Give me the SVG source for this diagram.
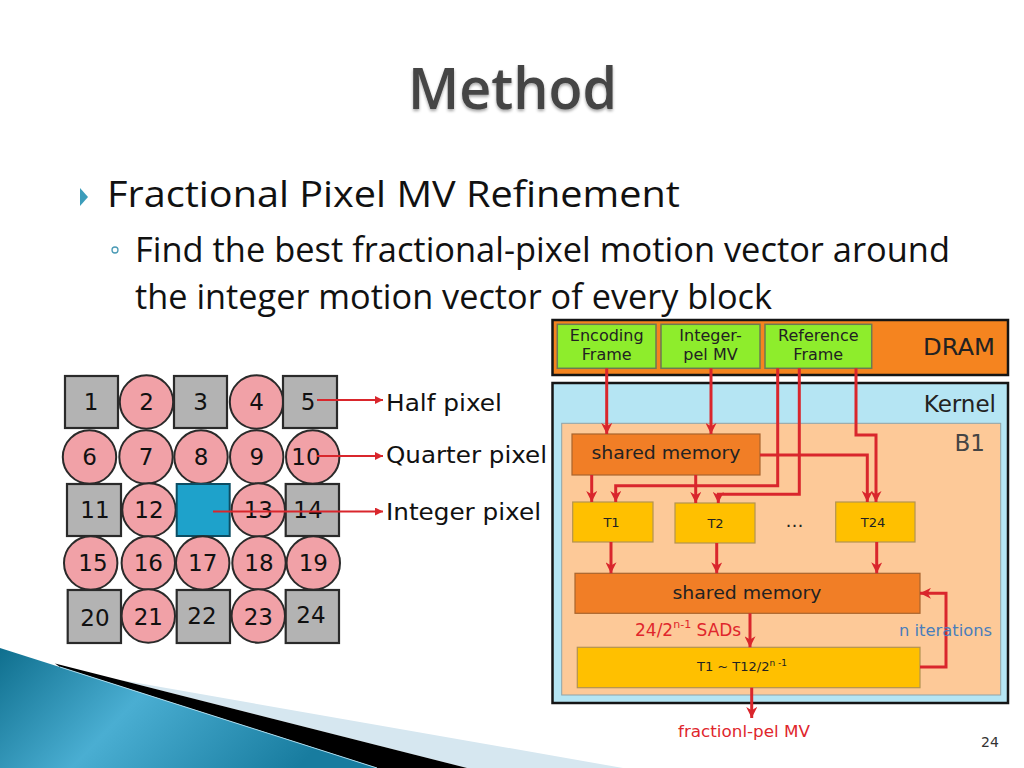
<svg xmlns="http://www.w3.org/2000/svg" width="1024" height="768" viewBox="0 0 1024 768">
<defs>
<style>
.ttl{font-family:"Open Sans","DejaVu Sans",sans-serif;font-weight:600;font-size:58px;fill:#444}
.b1{font-family:"Open Sans","DejaVu Sans",sans-serif;font-size:37px;fill:#111}
.b2{font-family:"Open Sans","DejaVu Sans",sans-serif;font-size:34px;fill:#111}
.num{font-family:"DejaVu Sans",sans-serif;font-size:23px;fill:#111;text-anchor:middle}
.lg{font-family:"DejaVu Sans",sans-serif;font-size:23px;fill:#111}
.sq{fill:#b3b3b3;stroke:#2a2a2a;stroke-width:2.2}
.ci{fill:#f1a1a7;stroke:#2a2a2a;stroke-width:2}
.dt{font-family:"DejaVu Sans",sans-serif;fill:#222}
.gb{fill:#8eed2c;stroke:#6b7a52;stroke-width:1.5}
.sm{fill:#f17e26;stroke:#a8642e;stroke-width:1.2}
.tb{fill:#ffc000;stroke:#b39350;stroke-width:1.2}
.cn{fill:none;stroke:#d9262c;stroke-width:3;marker-end:url(#ah)}
.lgl{fill:none;stroke:#d9262c;stroke-width:2;marker-end:url(#ahs)}
.rd{font-family:"DejaVu Sans",sans-serif;fill:#e0262c}
</style>
<marker id="ah" viewBox="0 0 10 10" refX="10" refY="5" markerWidth="11" markerHeight="11" markerUnits="userSpaceOnUse" orient="auto"><path d="M0,0 L10,5 L0,10 L3,5 z" fill="#d9262c"/></marker>
<marker id="ahs" viewBox="0 0 10 10" refX="10" refY="5" markerWidth="10" markerHeight="8" markerUnits="userSpaceOnUse" orient="auto"><path d="M0,0 L10,5 L0,10 z" fill="#d9262c"/></marker>
<filter id="sh" x="-10%" y="-20%" width="120%" height="150%"><feDropShadow dx="0" dy="2" stdDeviation="1.5" flood-color="#000" flood-opacity="0.35"/></filter>
<linearGradient id="blu" x1="0" y1="0" x2="1" y2="0.3">
<stop offset="0" stop-color="#0f6f8e"/>
<stop offset="0.45" stop-color="#4aaed2"/>
<stop offset="1" stop-color="#187c9f"/>
</linearGradient>
</defs>
<rect width="1024" height="768" fill="#fff"/>

<!-- bottom-left decoration -->
<polygon points="118,679.6 623,768 467,768" fill="#d6e7f0"/>
<polygon points="55,663.5 467,768 377,768 60,667" fill="#000"/>
<polygon points="0,648 377,768 0,768" fill="url(#blu)"/>
<line x1="60" y1="667" x2="377" y2="768" stroke="#a8d8ea" stroke-width="1"/>

<!-- title and bullets -->
<text class="ttl" x="408" y="109" textLength="209" lengthAdjust="spacingAndGlyphs" filter="url(#sh)">Method</text>
<polygon points="80,188 88,197 80,206" fill="#3c9dbb"/>
<text class="b1" x="107" y="207" textLength="573" lengthAdjust="spacingAndGlyphs">Fractional Pixel MV Refinement</text>
<circle cx="115" cy="250" r="3" fill="none" stroke="#4a9ab5" stroke-width="1.3"/>
<text class="b2" x="135" y="262" textLength="815" lengthAdjust="spacingAndGlyphs">Find the best fractional-pixel motion vector around</text>
<text class="b2" x="135" y="309" textLength="637" lengthAdjust="spacingAndGlyphs">the integer motion vector of every block</text>

<!-- pixel grid -->
<g id="p1"><rect class="sq" x="65" y="376" width="53" height="52"/><text class="num" x="91" y="410">1</text></g>
<g id="p2"><circle class="ci" cx="146.5" cy="402" r="26.7"/><text class="num" x="146.5" y="410">2</text></g>
<g id="p3"><rect class="sq" x="174" y="376" width="53" height="52"/><text class="num" x="200.5" y="410">3</text></g>
<g id="p4"><circle class="ci" cx="256.5" cy="402" r="26.7"/><text class="num" x="256.5" y="410">4</text></g>
<g id="p5"><rect class="sq" x="283" y="376" width="54" height="52"/><text class="num" x="308" y="410">5</text></g>

<g id="p6"><circle class="ci" cx="89.5" cy="457" r="26.7"/><text class="num" x="89.5" y="465">6</text></g>
<g id="p7"><circle class="ci" cx="146" cy="457" r="26.7"/><text class="num" x="146" y="465">7</text></g>
<g id="p8"><circle class="ci" cx="201" cy="457" r="26.7"/><text class="num" x="201" y="465">8</text></g>
<g id="p9"><circle class="ci" cx="256.7" cy="457" r="26.7"/><text class="num" x="256.7" y="465">9</text></g>
<g id="p10"><circle class="ci" cx="312.7" cy="457" r="26.7"/><text class="num" x="306" y="465">10</text></g>

<g id="p11"><rect class="sq" x="67" y="484" width="54" height="52"/><text class="num" x="95" y="518">11</text></g>
<g id="p12"><circle class="ci" cx="149" cy="510" r="26.7"/><text class="num" x="149" y="518">12</text></g>
<g id="pc"><rect x="176.7" y="484" width="53" height="52" fill="#1ea2cb" stroke="#0c4d63" stroke-width="2"/></g>
<g id="p13"><circle class="ci" cx="258.3" cy="510" r="26.7"/><text class="num" x="258.3" y="518">13</text></g>
<g id="p14"><rect class="sq" x="285.7" y="484" width="53.3" height="52"/><text class="num" x="308" y="518">14</text></g>

<g id="p15"><circle class="ci" cx="90.7" cy="563" r="26.7"/><text class="num" x="93" y="571">15</text></g>
<g id="p16"><circle class="ci" cx="148.3" cy="563" r="26.7"/><text class="num" x="148.3" y="571">16</text></g>
<g id="p17"><circle class="ci" cx="202.7" cy="563" r="26.7"/><text class="num" x="202.7" y="571">17</text></g>
<g id="p18"><circle class="ci" cx="259" cy="563" r="26.7"/><text class="num" x="259" y="571">18</text></g>
<g id="p19"><circle class="ci" cx="313.3" cy="563" r="26.7"/><text class="num" x="313.3" y="571">19</text></g>

<g id="p20"><rect class="sq" x="67.7" y="590" width="53.3" height="53"/><text class="num" x="95" y="626">20</text></g>
<g id="p21"><circle class="ci" cx="148.3" cy="616" r="26.7"/><text class="num" x="148.3" y="625">21</text></g>
<g id="p22"><rect class="sq" x="176.7" y="590" width="53.3" height="53"/><text class="num" x="202" y="624">22</text></g>
<g id="p23"><circle class="ci" cx="258.3" cy="616" r="26.7"/><text class="num" x="258.3" y="625">23</text></g>
<g id="p24"><rect class="sq" x="285.7" y="590" width="53.3" height="53"/><text class="num" x="311" y="623">24</text></g>

<g id="legend-connectors">
<path class="lgl" d="M317,400 H383"/>
<path class="lgl" d="M317,456 H383"/>
<path class="lgl" d="M213,511.5 H383"/>
</g>
<g id="legend-labels">
<text class="lg" x="386" y="411" textLength="116" lengthAdjust="spacingAndGlyphs">Half pixel</text>
<text class="lg" x="386" y="463" textLength="161" lengthAdjust="spacingAndGlyphs">Quarter pixel</text>
<text class="lg" x="386" y="520" textLength="155" lengthAdjust="spacingAndGlyphs">Integer pixel</text>
</g>

<!-- architecture -->
<g id="dram">
<rect x="552.5" y="320" width="455.5" height="55" fill="#f5841f" stroke="#151515" stroke-width="2.5"/>
<text class="dt" x="995" y="354.5" font-size="23" text-anchor="end" textLength="72" lengthAdjust="spacingAndGlyphs">DRAM</text>
</g>
<g id="enc"><rect class="gb" x="557.3" y="324.3" width="98.7" height="44"/>
<text class="dt" x="606.7" y="341" font-size="16" text-anchor="middle">Encoding</text>
<text class="dt" x="606.7" y="360" font-size="16" text-anchor="middle">Frame</text></g>
<g id="imv"><rect class="gb" x="661" y="324.3" width="99" height="44"/>
<text class="dt" x="710.5" y="341" font-size="16" text-anchor="middle">Integer-</text>
<text class="dt" x="710.5" y="360" font-size="16" text-anchor="middle">pel MV</text></g>
<g id="ref"><rect class="gb" x="765" y="324.3" width="106.7" height="44"/>
<text class="dt" x="818.3" y="341" font-size="16" text-anchor="middle">Reference</text>
<text class="dt" x="818.3" y="360" font-size="16" text-anchor="middle">Frame</text></g>

<g id="kernel">
<rect x="552.5" y="383" width="455.5" height="320" fill="#b5e5f3" stroke="#151515" stroke-width="2.5"/>
<text class="dt" x="996" y="412" font-size="23" text-anchor="end">Kernel</text>
</g>
<g id="b1">
<rect x="561.7" y="423.3" width="439" height="271.7" fill="#fdc998" stroke="#8fa3a8" stroke-width="1"/>
<text x="985" y="451" font-family="DejaVu Sans,sans-serif" font-size="23" fill="#444" text-anchor="end">B1</text>
</g>
<g id="sm1"><rect class="sm" x="572" y="434" width="188" height="41"/>
<text class="dt" x="666" y="459" font-size="18.5" text-anchor="middle" textLength="149" lengthAdjust="spacingAndGlyphs">shared memory</text></g>
<g id="t1"><rect class="tb" x="572.7" y="502" width="80.3" height="40"/>
<text class="dt" x="611.5" y="527" font-size="13" text-anchor="middle">T1</text></g>
<g id="t2"><rect class="tb" x="675" y="503" width="80" height="40"/>
<text class="dt" x="715.5" y="528" font-size="13" text-anchor="middle">T2</text></g>
<g id="dots"><text class="dt" x="794.5" y="527" font-size="18" text-anchor="middle">…</text></g>
<g id="t24"><rect class="tb" x="835.7" y="502" width="79.3" height="40"/>
<text class="dt" x="873" y="527" font-size="13" text-anchor="middle">T24</text></g>
<g id="sm2"><rect class="sm" x="575" y="573.3" width="345" height="40"/>
<text class="dt" x="747" y="598.5" font-size="18.5" text-anchor="middle" textLength="149" lengthAdjust="spacingAndGlyphs">shared memory</text></g>
<g id="tn"><rect class="tb" x="577.3" y="647.3" width="342.7" height="40.4"/>
<text class="dt" x="697" y="671" font-size="13">T1 ~ T12/2<tspan font-size="9" dy="-5">n -1</tspan></text></g>

<g id="connectors">
<path class="cn" d="M606.7,368.3 V434"/>
<path class="cn" d="M711,368.3 V434"/>
<path class="cn" d="M777.7,368.3 V485.7 H615.7 V502"/>
<path class="cn" d="M799.3,368.3 V494.3 H718.3 V503"/>
<path class="cn" d="M856,368.3 V435 H876 V502"/>
<path class="cn" d="M760,455 H867.3 V502"/>
<path class="cn" d="M591.7,475 V502"/>
<path class="cn" d="M695.7,475 V503"/>
<path class="cn" d="M611,542 V573.3"/>
<path class="cn" d="M716.7,543 V573.3"/>
<path class="cn" d="M876.7,542 V573.3"/>
<path class="cn" d="M750,613.3 V647.3"/>
<path class="cn" d="M920,667 H946 V593.3 H920"/>
<path class="cn" d="M751.7,687.7 V718"/>
</g>
<g id="labels">
<text class="rd" x="635" y="636" font-size="17">24/2<tspan font-size="11" dy="-8">n-1</tspan><tspan dy="8"> SADs</tspan></text>
<text x="899" y="636" font-family="DejaVu Sans,sans-serif" font-size="16" fill="#4a7ebb" textLength="93" lengthAdjust="spacingAndGlyphs">n iterations</text>
<text class="rd" x="744" y="737" font-size="16.5" text-anchor="middle" textLength="132" lengthAdjust="spacingAndGlyphs">fractionl-pel MV</text>
<text x="990" y="747" font-family="DejaVu Sans,sans-serif" font-size="14" fill="#333" text-anchor="middle">24</text>
</g>
</svg>
